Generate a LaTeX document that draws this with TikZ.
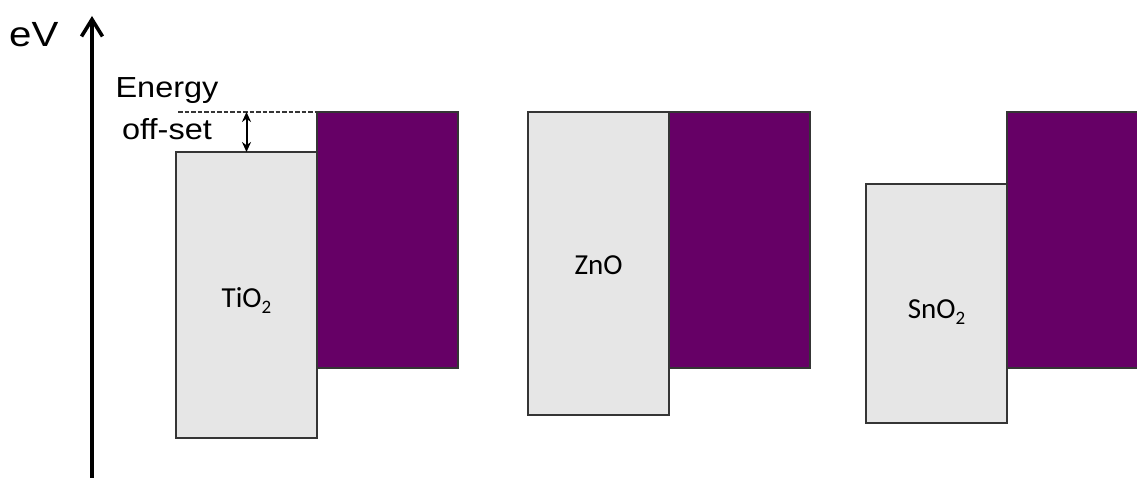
\documentclass[tikz,border=0pt]{standalone}
\usepackage{fontspec}
\usetikzlibrary{arrows.meta}
\newfontfamily\labelfont{Carlito}
\newfontfamily\axisfont{Liberation Sans}
\definecolor{cbgrey}{HTML}{E6E6E6}
\definecolor{vbpurple}{HTML}{660066}
\definecolor{edgegrey}{HTML}{353535}
\newcommand\lowidx[1]{\raisebox{-0.24em}{\fontsize{19}{19}\selectfont #1}}

\begin{document}
\begin{tikzpicture}[x=1pt,y=-1pt,
  band/.style={rectangle, draw=edgegrey, line width=2.2pt, inner sep=0pt,
               outer sep=0pt, minimum width=141pt},
  cb/.style={band, fill=cbgrey},
  vb/.style={band, fill=vbpurple},
  mat/.style={font=\labelfont\fontsize{29}{35}\selectfont, anchor=base, inner sep=0pt},
  note/.style={font=\axisfont\fontsize{29}{35}\selectfont, anchor=base, inner sep=0pt, xscale=1.12},
  axisline/.style={line width=3.6pt, -{Straight Barb[length=17pt,width=21pt]}},
  gap/.style={line width=2pt, {Stealth[length=10pt,width=9pt]}-{Stealth[length=10pt,width=9pt]}},
  level/.style={draw=edgegrey, line width=2pt, dash pattern=on 4.5pt off 2pt}
]
\clip (0,0) rectangle (1137,478);
\fill[white] (0,0) rectangle (1137,478);

% energy axis
\coordinate (axbot) at (92,478);
\coordinate (axtop) at (92,16);
\draw[axisline] (axbot) -- (axtop);
\node[font=\axisfont\fontsize{35}{42}\selectfont, anchor=base west, inner sep=0pt, xscale=1.15] (ev) at (9,47) {eV};

% TiO2 bands
\node[cb, minimum height=286pt] (tio2cb) at (246.5,295) {};
\node[vb, minimum height=256pt] (tio2vb) at (387.5,240) {};
\node[mat] (tio2lbl) at (246.5,307) {TiO\lowidx{2}};

% ZnO bands
\node[cb, minimum height=303pt] (znocb) at (598.5,263.5) {};
\node[vb, minimum height=256pt] (znovb) at (739.5,240) {};
\node[mat] (znolbl) at (598.5,274) {ZnO};

% SnO2 bands
\node[cb, minimum height=239pt] (sno2cb) at (936.5,303.5) {};
\node[vb, minimum height=256pt] (sno2vb) at (1077.5,240) {};
\node[mat] (sno2lbl) at (936.5,318) {SnO\lowidx{2}};

% energy off-set marker
\coordinate (dashL) at (178,112);
\draw[level] (dashL) -- (tio2vb.north west);
\draw[gap] (tio2cb.north |- tio2vb.north) -- (tio2cb.north);
\node[note] (offa) at (167,98) {Energy};
\node[note] (offb) at (167,140) {off-set};
\end{tikzpicture}
\end{document}
